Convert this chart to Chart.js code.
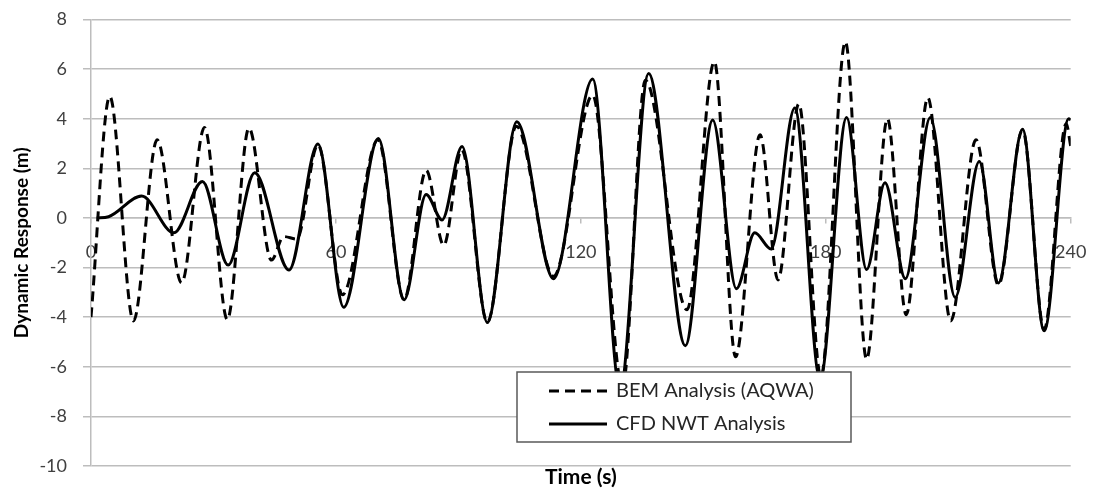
<!DOCTYPE html>
<html>
<head>
<meta charset="utf-8">
<script src="https://cdn.jsdelivr.net/npm/chart.js@4"></script>
<style>
  html, body { margin: 0; padding: 0; background: #fff; }
  #wrap { width: 1094px; height: 493px; }
</style>
</head>
<body>
<div id="wrap"><canvas id="response" width="1094" height="493"></canvas></div>
<script>
// values (peaks, troughs and a few shape points)
const bemTime = [0, 4.6, 10.4, 16.2, 22.2, 27.8, 33.4, 38.7, 44.2, 47.2, 50.4, 55.6, 61.6, 70.3, 76.7, 82.1, 86.4, 90.8, 97.1, 104.2, 113.3, 122.9, 130.2, 135.8, 146.0, 152.7, 157.9, 163.9, 168.3, 173.4, 178.8, 184.8, 190.0, 195.1, 199.7, 205.0, 210.6, 216.8, 222.3, 228.2, 233.5, 238.9, 240];
const bemValues = [-4.0, 4.9, -4.15, 3.15, -2.62, 3.65, -4.1, 3.62, -1.7, -0.75, -0.85, 2.95, -3.1, 3.15, -3.3, 1.92, -1.1, 2.75, -4.2, 3.7, -2.35, 4.95, -6.8, 5.55, -3.7, 6.3, -5.6, 3.35, -2.5, 4.6, -6.4, 7.1, -5.7, 4.0, -3.9, 4.85, -4.15, 3.15, -2.7, 3.55, -4.5, 3.8, 2.9];

const cfdTime = [1.4, 4.3, 12.4, 20.3, 27.3, 33.6, 40.1, 48.5, 55.6, 61.9, 70.4, 76.7, 82.1, 86.0, 90.9, 97.1, 104.3, 113.3, 122.9, 129.6, 136.6, 145.6, 152.3, 158.1, 162.6, 166.6, 172.4, 178.6, 185.1, 190.0, 194.5, 199.5, 205.6, 211.7, 217.6, 222.3, 228.2, 233.5, 239.5, 240];
const cfdValues = [0.0, 0.05, 0.88, -0.6, 1.47, -1.9, 1.82, -2.1, 2.98, -3.6, 3.2, -3.3, 0.95, -0.08, 2.88, -4.22, 3.88, -2.45, 5.6, -6.9, 5.82, -5.15, 3.95, -2.85, -0.6, -1.25, 4.43, -6.5, 4.05, -2.08, 1.42, -2.45, 4.05, -3.2, 2.28, -2.62, 3.58, -4.55, 4.0, 3.95];

const seriesNames = ['BEM Analysis (AQWA)', 'CFD NWT Analysis'];
const timeTicks = [0, 60, 120, 180, 240];
const responseTicks = [-10, -8, -6, -4, -2, 0, 2, 4, 6, 8];

const gridGrey = '#bdbdbd';
const textGrey = '#404040';

function toPoints(xs, ys) {
  return xs.map((x, i) => ({ x: x, y: ys[i] }));
}

// legend box sitting inside the plot, drawn over the lines
const boxLegend = {
  id: 'boxLegend',
  afterDraw(chart) {
    const ctx = chart.ctx;
    const x = 517, y = 372, w = 334, h = 70;
    ctx.save();
    ctx.fillStyle = '#fff';
    ctx.fillRect(x, y, w, h);
    ctx.strokeStyle = '#595959';
    ctx.lineWidth = 1.5;
    ctx.strokeRect(x, y, w, h);
    chart.data.datasets.forEach((ds, i) => {
      const ly = y + 19 + i * 33;
      ctx.beginPath();
      ctx.setLineDash(ds.borderDash || []);
      ctx.strokeStyle = ds.borderColor;
      ctx.lineWidth = ds.borderWidth;
      ctx.moveTo(x + 32, ly);
      ctx.lineTo(x + 90, ly);
      ctx.stroke();
      ctx.setLineDash([]);
      ctx.fillStyle = '#262626';
      ctx.font = '20px Lato';
      ctx.textBaseline = 'middle';
      ctx.fillText(ds.label, x + 99, ly);
    });
    ctx.restore();
  }
};

const ctx = document.getElementById('response').getContext('2d');
new Chart(ctx, {
  type: 'line',
  data: {
    datasets: [{
      label: seriesNames[0],
      data: toPoints(bemTime, bemValues),
      borderColor: '#000',
      borderWidth: 3,
      borderDash: [10, 6],
      pointRadius: 0,
      cubicInterpolationMode: 'monotone',
      fill: false
    }, {
      label: seriesNames[1],
      data: toPoints(cfdTime, cfdValues),
      borderColor: '#000',
      borderWidth: 3,
      pointRadius: 0,
      cubicInterpolationMode: 'monotone',
      fill: false
    }]
  },
  options: {
    responsive: false,
    animation: false,
    devicePixelRatio: 1,
    layout: { padding: { top: 19.5, right: 23.3, left: 0, bottom: 0 } },
    plugins: {
      legend: { display: false },
      tooltip: { enabled: false }
    },
    scales: {
      x: {
        type: 'linear',
        position: { y: 0 },
        min: 0,
        max: 240,
        afterBuildTicks: (scale) => { scale.ticks = timeTicks.map(v => ({ value: v })); },
        ticks: {
          color: textGrey,
          font: { family: 'Lato', size: 18 },
          padding: 18,
          maxRotation: 0,
          autoSkip: false
        },
        grid: { drawOnChartArea: false, drawTicks: true, tickLength: 5, color: gridGrey, lineWidth: 1.5 },
        border: { display: true, color: gridGrey, width: 1.5 },
        afterFit: (scale) => { scale.paddingLeft = 0; scale.paddingRight = 0; }
      },
      x2: {
        type: 'linear',
        position: 'bottom',
        min: 0,
        max: 240,
        ticks: { display: false },
        grid: { display: false },
        border: { display: false },
        title: {
          display: true,
          text: 'Time (s)',
          color: '#000',
          font: { family: 'Lato', size: 21, weight: 'bold' },
          padding: { top: 3, bottom: 3 }
        },
        afterFit: (scale) => { scale.height = 27; scale.paddingLeft = 0; scale.paddingRight = 0; }
      },
      y: {
        min: -10,
        max: 8,
        afterBuildTicks: (scale) => { scale.ticks = responseTicks.map(v => ({ value: v })); },
        ticks: {
          color: textGrey,
          font: { family: 'Lato', size: 18 },
          padding: 16
        },
        grid: { color: gridGrey, lineWidth: 1.5, tickLength: 8 },
        border: { display: true, color: gridGrey, width: 1.5 },
        title: {
          display: true,
          text: 'Dynamic Response (m)',
          color: '#000',
          font: { family: 'Lato', size: 19, weight: 'bold' },
          padding: { top: 10, bottom: 0 }
        },
        afterFit: (scale) => { scale.width = 91; scale.paddingTop = 0; scale.paddingBottom = 0; }
      }
    }
  },
  plugins: [boxLegend]
});
</script>
</body>
</html>
